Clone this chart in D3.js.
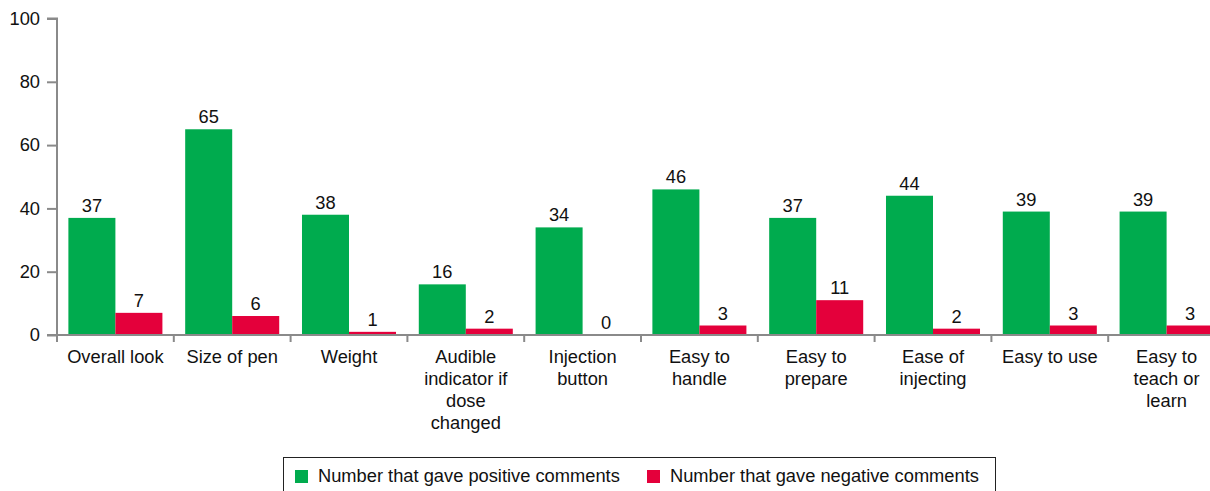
<!DOCTYPE html>
<html><head><meta charset="utf-8">
<script src="https://cdn.jsdelivr.net/npm/d3@7"></script>
<style>body{margin:0;background:#fff}svg{display:block;font-family:"Liberation Sans",Arial,sans-serif}</style>
</head><body>
<svg id="c" width="1210" height="491"></svg>
<script>
const categories = ["Overall look","Size of pen","Weight","Audible indicator if dose changed","Injection button","Easy to handle","Easy to prepare","Ease of injecting","Easy to use","Easy to teach or learn"];
const positive = [37,65,38,16,34,46,37,44,39,39];
const negative = [7,6,1,2,0,3,11,2,3,3];
const seriesNames = ["Number that gave positive comments","Number that gave negative comments"];
const colors = ["#00ab4e","#e4003b"];
const yTicks = [0,20,40,60,80,100];

const FS = 18.3;
const svg = d3.select("#c");
const x0 = 57, step = 116.8;
const x = d3.scaleBand().domain(categories).range([x0, x0 + step*categories.length]).paddingInner(0.195).paddingOuter(0.0975);
const xs = d3.scaleBand().domain([0,1]).range([0, x.bandwidth()]).padding(0);
const y = d3.scaleLinear().domain([0,100]).range([335, 18.5]);
const axisColor = "#8a8a8a";

// bars
const data = categories.map((c,i)=>({c, v:[positive[i], negative[i]]}));
const g = svg.append("g");
data.forEach(d=>{
  d.v.forEach((v,k)=>{
    g.append("rect").attr("x", x(d.c)+xs(k)).attr("y", y(v)).attr("width", xs.bandwidth()).attr("height", y(0)-y(v)).attr("fill", colors[k]);
    g.append("text").attr("x", x(d.c)+xs(k)+xs.bandwidth()/2).attr("y", y(v)-6).attr("text-anchor","middle").attr("font-size",FS).attr("fill","#111").text(v);
  });
});

// y axis
const ya = svg.append("g").attr("transform",`translate(${x0},0)`).call(d3.axisLeft(y).tickValues(yTicks).tickSize(10).tickPadding(7));
ya.select(".domain").attr("stroke",axisColor).attr("stroke-width",2).attr("d",`M-10,${y(100)}H0V${y(0)}`);
ya.selectAll(".tick line").attr("stroke",axisColor).attr("stroke-width",2);
ya.selectAll(".tick text").attr("font-size",FS).attr("fill","#111").attr("font-family","Liberation Sans, Arial, sans-serif");

// x axis
svg.append("line").attr("x1",x0-10).attr("x2",1210).attr("y1",y(0)).attr("y2",y(0)).attr("stroke",axisColor).attr("stroke-width",2);
const bounds = d3.range(categories.length+1).map(i=>x0+i*x.step());
svg.selectAll(".xt").data(bounds).enter().append("line").attr("x1",d=>d).attr("x2",d=>d).attr("y1",y(0)).attr("y2",y(0)+7).attr("stroke",axisColor).attr("stroke-width",2);

// x labels with wrap
const maxW = 104;
categories.forEach(c=>{
  const t = svg.append("text").attr("x", x(c)+x.bandwidth()/2).attr("y", 363).attr("text-anchor","middle").attr("font-size",FS).attr("fill","#111");
  const words = c.split(" ");
  let lines = [], cur = [];
  const probe = svg.append("text").attr("font-size",FS);
  words.forEach(w=>{
    const test = cur.concat([w]).join(" ");
    probe.text(test);
    if (probe.node().getComputedTextLength() > maxW && cur.length) { lines.push(cur.join(" ")); cur=[w]; } else cur.push(w);
  });
  lines.push(cur.join(" "));
  probe.remove();
  lines.forEach((l,i)=>t.append("tspan").attr("x", x(c)+x.bandwidth()/2).attr("dy", i?22:0).text(l));
});

// legend
const lg = svg.append("g");
lg.append("rect").attr("x",283.5).attr("y",457.5).attr("width",712).attr("height",40).attr("fill","none").attr("stroke","#222").attr("stroke-width",1);
const items = [{x:295},{x:647}];
items.forEach((it,k)=>{
  lg.append("rect").attr("x",it.x).attr("y",470).attr("width",13).attr("height",13).attr("fill",colors[k]);
  lg.append("text").attr("x",it.x+23).attr("y",482).attr("font-size",FS).attr("fill","#111").text(seriesNames[k]);
});
</script>
</body></html>
